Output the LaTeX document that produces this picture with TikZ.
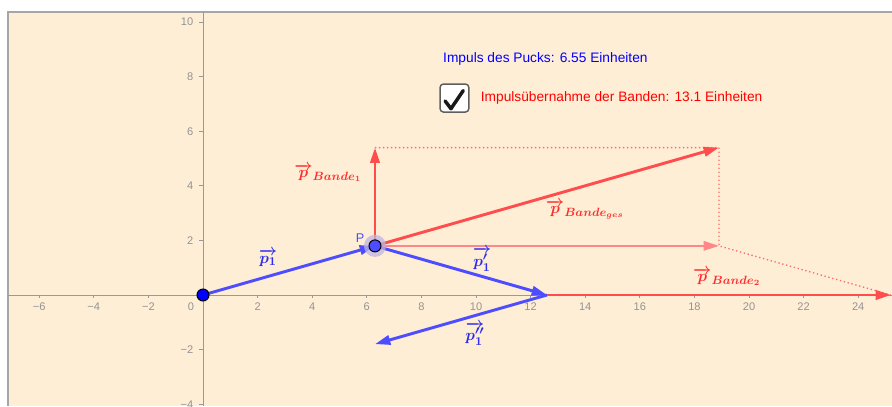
\documentclass[tikz,border=0pt]{standalone}
\usepackage{fontspec}
\newfontfamily\ggbsans{Liberation Sans}
\usepackage{amsmath, amssymb}
\usepackage{tikz}
\usetikzlibrary{arrows.meta, positioning, calc}
\definecolor{ggbback}{RGB}{255,238,214}
\definecolor{vecblue}{RGB}{77,77,255}
\definecolor{vecred}{RGB}{255,77,77}
\definecolor{lightred}{RGB}{255,135,135}
\definecolor{labblue}{RGB}{45,45,235}
\definecolor{labred}{RGB}{255,45,45}
\definecolor{halo}{RGB}{190,180,225}

\begin{document}
\begin{tikzpicture}[x=20.475pt, y=20.475pt,
    achse/.style={draw=gray!80, line width=0.75pt},
    zahl/.style={font=\ggbsans\fontsize{8.3}{10}\selectfont, text=gray!85, inner sep=1pt},
    spitze/.style={-{Triangle[length=11.5pt, width=7pt]}},
    vblau/.style={draw=vecblue, line width=2.2pt, spitze},
    vrot/.style={draw=vecred, line width=2.2pt, spitze},
    hilfslinie/.style={draw=vecred!85, line width=1pt, dash pattern=on 1pt off 2pt},
    blaulabel/.style={text=labblue, font=\fontsize{13}{15}\selectfont},
    rotlabel/.style={text=labred, font=\fontsize{13}{15}\selectfont},
    punkt/.style={circle, draw=black, line width=0.75pt, inner sep=0pt, minimum size=9pt}]

  % Zeichenblatt
  \useasboundingbox (-7.436,-4.066) rectangle (25.238,10.806);
  \fill[white] (-7.436,-4.066) rectangle (25.238,10.806);
  \fill[ggbback] (-7.143,-4.066) rectangle (25.238,10.366);
  \draw[gray!70, line width=1pt] (-7.143,-4.066) |- (25.238,10.366);

  % Achsen
  \draw[achse] (-7.143,0) -- (25.238,0);
  \draw[achse] (0,-4.066) -- (0,10.366);
  \foreach \x in {-6,-4,...,24} {
    \draw[achse] (\x,0) -- (\x,-0.12);
  }
  \foreach \x in {-6,-4,-2,2,4,...,24} {
    \node[zahl] (xz\x) at (\x,-0.43) {\ifnum\x<0 −\number\numexpr-\x\relax\else\x\fi};
  }
  \node[zahl] (xz0) at (-0.44,-0.43) {0};
  \foreach \y in {-4,-2,2,4,...,10} {
    \draw[achse] (0,\y) -- (-0.14,\y);
    \node[zahl, anchor=east] (yz\y) at (-0.3,\y) {\ifnum\y<0 −\number\numexpr-\y\relax\else\y\fi};
  }

  % Punkte der Konstruktion
  \coordinate (O) at (0,0);
  \coordinate (P) at (6.3,1.8);
  \coordinate (Q) at (12.6,0);
  \coordinate (R) at (6.3,-1.8);
  \coordinate (S) at (25.2,0);
  \coordinate (T) at (6.3,5.4);
  \coordinate (U) at (18.9,5.4);
  \coordinate (V) at (18.9,1.8);

  % Hilfslinien
  \draw[hilfslinie] (T) -- (U) -- (V) -- (S);

  % Impulse der Banden
  \draw[draw=lightred, line width=1.6pt, spitze] (P) -- (V);
  \draw[vrot] (P) -- (T);
  \draw[vrot] (P) -- (U);
  \draw[vrot] (Q) -- (S);

  % Impulse des Pucks
  \draw[vblau] (O) -- (P);
  \draw[vblau] (P) -- (Q);
  \draw[vblau] (Q) -- (R);

  % Punkte
  \fill[halo, opacity=0.75] (P) circle (8.3pt);
  \node[punkt, fill=blue] (puck) at (O) {};
  \node[punkt, fill=vecblue] (stoss) at (P) {};
  \node[text=vecblue, font=\ggbsans\fontsize{9.5}{11}\selectfont, inner sep=0pt] (plabel) at (5.75,2.09) {P};

  % Beschriftungen
  \node[blaulabel] (lp1) at (2.38,1.36) {$\boldsymbol{\overrightarrow{p_1}}$};
  \node[blaulabel] (lp1s) at (10.22,1.3) {$\boldsymbol{\overrightarrow{p_1'}}$};
  \node[blaulabel] (lp1ss) at (9.96,-1.42) {$\boldsymbol{\overrightarrow{p_1''}}$};
  \node[rotlabel] (lb1) at (4.58,4.47) {$\boldsymbol{\overrightarrow{p}_{Bande_1}}$};
  \node[rotlabel] (lbges) at (13.99,3.12) {$\boldsymbol{\overrightarrow{p}_{Bande_{ges}}}$};
  \node[rotlabel] (lb2) at (19.19,0.66) {$\boldsymbol{\overrightarrow{p}_{Bande_2}}$};

  % Anzeige oben
  \node[anchor=base west, inner sep=0pt, text=blue, font=\ggbsans\fontsize{10.3}{12}\selectfont] (impuls) at (8.79,8.53)
    {Impuls des Pucks: 6.55 Einheiten};
  \node[draw=gray!20!black!70, fill=white, line width=1.1pt, rounded corners=2.5pt,
        minimum width=21.5pt, minimum height=21pt, inner sep=0pt] (kasten) at (9.21,7.215) {};
  \draw[draw=gray!20!black, line width=2.6pt, line cap=round, line join=round]
    ($(kasten.center)+(-7pt,-2.2pt)$) -- ($(kasten.center)+(-2.6pt,-8pt)$) -- ($(kasten.center)+(6.6pt,5.6pt)$);
  \node[right=5pt of kasten, text=red, font=\ggbsans\fontsize{10.3}{12}\selectfont] (bande)
    {Impulsübernahme der Banden: 13.1 Einheiten};
\end{tikzpicture}
\end{document}
